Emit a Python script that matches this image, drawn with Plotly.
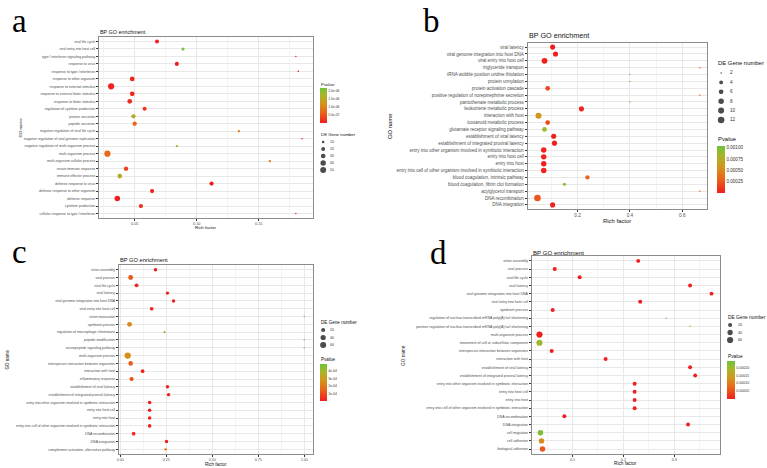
import math
import plotly.graph_objects as go

W, H = 767, 468

# ---------------- data: panel a ----------------
a_terms = ["viral life cycle", "viral entry into host cell", "type I interferon signaling pathway",
           "response to virus", "response to type I interferon", "response to other organism",
           "response to external stimulus", "response to external biotic stimulus", "response to biotic stimulus",
           "regulation of cytokine production", "protein secretion", "peptide secretion",
           "negative regulation of viral life cycle", "negative regulation of viral genome replication",
           "negative regulation of multi-organism process", "multi-organism process",
           "multi-organism cellular process", "innate immune response", "immune effector process",
           "defense response to virus", "defense response to other organism", "defense response",
           "cytokine production", "cellular response to type I interferon"]
a_rich = [0.068, 0.089, 0.180, 0.084, 0.182, 0.048, 0.031, 0.048, 0.046, 0.058, 0.049, 0.050,
          0.134, 0.185, 0.084, 0.028, 0.159, 0.043, 0.038, 0.112, 0.064, 0.036, 0.055, 0.180]
a_genes = [20, 13, 8, 22, 8, 30, 55, 30, 30, 22, 24, 24, 9, 8, 9, 55, 9, 25, 30, 23, 23, 42, 24, 8]
a_pvalue = [1e-08, 2.2e-06, 1e-07, 1e-08, 1e-07, 1e-07, 5e-08, 1e-07, 1.5e-07, 2.5e-07, 1.6e-06, 7e-07,
            9e-07, 1e-07, 1.7e-06, 7e-07, 9e-07, 3.5e-07, 1.6e-06, 1e-08, 5e-08, 1e-08, 2e-07, 1e-07]
a_xticks = [0.05, 0.10, 0.15]
a_xticklabels = ["0.05", "0.10", "0.15"]
a_size_breaks = [10, 20, 30, 40, 50]
a_p_ticks = [2.0e-06, 1.5e-06, 1.0e-06, 5.0e-07]
a_p_ticklabels = ["2.0e-06", "1.5e-06", "1.0e-06", "5.0e-07"]

# ---------------- data: panel b ----------------
b_terms = ["viral latency", "viral genome integration into host DNA", "viral entry into host cell",
           "triglyceride transport", "tRNA wobble position uridine thiolation", "protein urmylation",
           "protein activation cascade", "positive regulation of norepinephrine secretion",
           "pantothenate metabolic process", "leukotriene metabolic process", "interaction with host",
           "icosanoid metabolic process", "glutamate receptor signaling pathway",
           "establishment of viral latency", "establishment of integrated proviral latency",
           "entry into other organism involved in symbiotic interaction", "entry into host cell",
           "entry into host", "entry into cell of other organism involved in symbiotic interaction",
           "blood coagulation, intrinsic pathway", "blood coagulation, fibrin clot formation",
           "acylglycerol transport", "DNA recombination", "DNA integration"]
b_rich = [0.105, 0.116, 0.074, 0.667, 0.400, 0.400, 0.086, 0.667, 0.400, 0.215, 0.051, 0.086,
          0.074, 0.109, 0.112, 0.071, 0.071, 0.071, 0.071, 0.238, 0.150, 0.667, 0.047, 0.105]
b_genes = [7, 7, 9, 2, 2, 2, 6, 2, 2, 7, 10, 6, 6, 7, 7, 8, 8, 8, 8, 5, 3, 2, 12, 7]
b_pvalue = [5e-06, 5e-06, 1e-05, 3e-04, 1.04e-03, 1.04e-03, 1.8e-04, 3e-04, 1.04e-03, 2e-05, 6e-04, 2e-04,
            8.6e-04, 1e-05, 1e-05, 2e-05, 2e-05, 2e-05, 2e-05, 3e-04, 9.5e-04, 3e-04, 2.5e-04, 1e-05]
b_xticks = [0.2, 0.4, 0.6]
b_xticklabels = ["0.2", "0.4", "0.6"]
b_size_breaks = [2, 4, 6, 8, 10, 12]
b_p_ticks = [0.00100, 0.00075, 0.00050, 0.00025]
b_p_ticklabels = ["0.00100", "0.00075", "0.00050", "0.00025"]

# ---------------- data: panel c ----------------
c_terms = ["virion assembly", "viral process", "viral life cycle", "viral latency",
           "viral genome integration into host DNA", "viral entry into host cell", "virion maturation",
           "symbiont process", "regulation of macrophage chemotaxis", "peptide modification",
           "neuropeptide signaling pathway", "multi-organism process",
           "interspecies interaction between organisms", "interaction with host", "inflammatory response",
           "establishment of viral latency", "establishment of integrated proviral latency",
           "entry into other organism involved in symbiotic interaction", "entry into host cell",
           "entry into host", "entry into cell of other organism involved in symbiotic interaction",
           "DNA recombination", "DNA integration", "complement activation, alternative pathway"]
c_rich = [0.192, 0.057, 0.089, 0.257, 0.290, 0.171, 1.000, 0.051, 0.241, 1.000, 1.000, 0.041,
          0.057, 0.122, 0.062, 0.257, 0.263, 0.160, 0.160, 0.160, 0.160, 0.073, 0.252, 0.247]
c_genes = [13, 33, 17, 12, 12, 15, 2, 33, 3, 2, 2, 65, 28, 15, 22, 12, 12, 14, 14, 14, 14, 15, 12, 4]
c_pvalue = [1e-06, 1.2e-04, 2e-05, 1e-06, 1e-06, 1e-05, 4.95e-04, 2.4e-04, 4.6e-04, 4.95e-04, 4.95e-04, 2.6e-04,
            1.3e-04, 1e-05, 1e-04, 1e-06, 1e-06, 1e-06, 1e-06, 1e-06, 1e-06, 3e-05, 1e-06, 1.5e-04]
c_xticks = [0.00, 0.25, 0.50, 0.75, 1.00]
c_xticklabels = ["0.00", "0.25", "0.50", "0.75", "1.00"]
c_size_breaks = [20, 40, 60]
c_p_ticks = [4e-04, 3e-04, 2e-04, 1e-04]
c_p_ticklabels = ["4e-04", "3e-04", "2e-04", "1e-04"]

# ---------------- data: panel d ----------------
d_terms = ["virion assembly", "viral process", "viral life cycle", "viral latency",
           "viral genome integration into host DNA", "viral entry into host cell", "symbiont process",
           "regulation of nuclear-transcribed mRNA poly(A) tail shortening",
           "positive regulation of nuclear-transcribed mRNA poly(A) tail shortening",
           "multi-organism process", "movement of cell or subcellular component",
           "interspecies interaction between organisms", "interaction with host",
           "establishment of viral latency", "establishment of integrated proviral latency",
           "entry into other organism involved in symbiotic interaction", "entry into host cell",
           "entry into host", "entry into cell of other organism involved in symbiotic interaction",
           "DNA recombination", "DNA integration", "cell migration", "cell adhesion", "biological adhesion"]
d_rich = [0.229, 0.065, 0.114, 0.331, 0.373, 0.233, 0.061, 0.284, 0.331, 0.035, 0.035, 0.059,
          0.165, 0.331, 0.341, 0.222, 0.222, 0.222, 0.222, 0.084, 0.327, 0.037, 0.039, 0.041]
d_genes = [18, 20, 20, 18, 18, 20, 20, 3, 3, 60, 60, 20, 19, 18, 18, 19, 19, 19, 19, 19, 18, 45, 42, 45]
d_pvalue = [1e-07, 1e-07, 1e-07, 1e-07, 1e-07, 1e-07, 1e-07, 2.4e-04, 1.6e-04, 1e-06, 2.0e-04, 1e-07,
            1e-07, 1e-07, 1e-07, 1e-07, 1e-07, 1e-07, 1e-07, 1e-07, 1e-07, 2.3e-04, 1.2e-04, 6e-05]
d_xticks = [0.1, 0.2, 0.3]
d_xticklabels = ["0.1", "0.2", "0.3"]
d_size_breaks = [20, 40, 60]
d_p_ticks = [0.00020, 0.00015, 0.00010, 0.00005]
d_p_ticklabels = ["0.00020", "0.00015", "0.00010", "0.00005"]

# ---------------- styling / layout (pixel positions) ----------------
COLORSCALE = [[0.0, "#F01E1E"], [0.3, "#E9651A"], [0.55, "#D4951A"], [0.8, "#A6B62A"], [1.0, "#6EC23A"]]
FONT = "Liberation Sans, Arial, sans-serif"
SERIF = "Liberation Serif, Times New Roman, serif"

panels = [
    dict(letter="a", terms=a_terms, rich=a_rich, genes=a_genes, p=a_pvalue,
         xt=a_xticks, xtl=a_xticklabels, sb=a_size_breaks, pt=a_p_ticks, ptl=a_p_ticklabels,
         box=(97, 312, 37, 218), xr=(0.021, 0.194), minor_step=0.05, srange=(1.6, 6.2),
         fs=dict(cat=3.5, tick=3.8, title=5.4, axt=4.4, legt=4.4, legl=3.5, cb=3.3),
         title_y=32, goname=(19, 127.5), rich_t=(204.5, 227), letter_pos=(18, 21), letter_size=33,
         pv_title=(319, 84), cbar=(319, 7, 88, 35), de_title=(319, 134),
         leg=(322, 142, 7.0), leg_lab_dx=6),
    dict(letter="b", terms=b_terms, rich=b_rich, genes=b_genes, p=b_pvalue,
         xt=b_xticks, xtl=b_xticklabels, sb=b_size_breaks, pt=b_p_ticks, ptl=b_p_ticklabels,
         box=(527, 707, 43, 209), xr=(0.0095, 0.695), minor_step=0.2, srange=(1.5, 6.6),
         fs=dict(cat=4.5, tick=4.6, title=7.2, axt=5.9, legt=5.9, legl=4.6, cb=4.6),
         title_y=36, goname=(389, 126), rich_t=(617, 221), letter_pos=(431, 21), letter_size=33,
         pv_title=(717, 139), cbar=(717, 8, 146, 47), de_title=(717, 63),
         leg=(721, 73, 9.4), leg_lab_dx=8),
    dict(letter="c", terms=c_terms, rich=c_rich, genes=c_genes, p=c_pvalue,
         xt=c_xticks, xtl=c_xticklabels, sb=c_size_breaks, pt=c_p_ticks, ptl=c_p_ticklabels,
         box=(117, 312, 265, 454), xr=(-0.008, 1.049), minor_step=0.25, srange=(1.5, 6.3),
         fs=dict(cat=3.5, tick=3.6, title=5.7, axt=4.5, legt=4.6, legl=3.6, cb=3.4),
         title_y=260, goname=(6, 359.5), rich_t=(214.5, 464), letter_pos=(18, 251.5), letter_size=33,
         pv_title=(319, 359), cbar=(319, 7, 364, 37), de_title=(319, 322),
         leg=(322, 330, 7.5), leg_lab_dx=6),
    dict(letter="d", terms=d_terms, rich=d_rich, genes=d_genes, p=d_pvalue,
         xt=d_xticks, xtl=d_xticklabels, sb=d_size_breaks, pt=d_p_ticks, ptl=d_p_ticklabels,
         box=(531, 720, 256, 454), xr=(0.0196, 0.390), minor_step=0.1, srange=(1.5, 6.2),
         fs=dict(cat=3.6, tick=3.8, title=6.1, axt=4.7, legt=4.8, legl=3.7, cb=3.6),
         title_y=253, goname=(402, 355), rich_t=(625.5, 463), letter_pos=(438, 252.5), letter_size=33,
         pv_title=(727, 356), cbar=(727, 8, 361, 38), de_title=(727, 317),
         leg=(730, 325, 7.5), leg_lab_dx=7),
]


def fx(x):
    return x / W


def fy(y):
    return 1 - y / H


def size_fn(vals, vmin, vmax, rng):
    lo, hi = rng
    out = []
    for v in vals:
        r = (v - vmin) / (vmax - vmin)
        r = min(max(r, 0.0), 1.0)
        out.append(lo + (hi - lo) * math.sqrt(r))
    return out


fig = go.Figure()
layout = dict(width=W, height=H, margin=dict(l=0, r=0, t=0, b=0), paper_bgcolor="white",
              plot_bgcolor="white", showlegend=False, font=dict(family=FONT, color="#1A1A1A"))
annotations = []

for i, P in enumerate(panels, start=1):
    l, r, t, b = P["box"]
    n = len(P["terms"])
    gmin, gmax = min(P["genes"]), max(P["genes"])
    xa = "x" if i == 1 else f"x{i}"
    ya = "y" if i == 1 else f"y{i}"
    xk = "xaxis" if i == 1 else f"xaxis{i}"
    yk = "yaxis" if i == 1 else f"yaxis{i}"
    ca = "coloraxis" if i == 1 else f"coloraxis{i}"

    # minor gridlines halfway between major ticks
    step = P["minor_step"]
    minor_vals = []
    k = math.floor(P["xr"][0] / step) - 1
    while k * step + step / 2 < P["xr"][1]:
        mv = k * step + step / 2
        if mv > P["xr"][0]:
            minor_vals.append(mv)
        k += 1

    layout[xk] = dict(domain=[fx(l), fx(r)], range=list(P["xr"]), anchor=ya,
                      tickmode="array", tickvals=P["xt"], ticktext=P["xtl"],
                      showgrid=True, gridcolor="#E8E8E8", gridwidth=0.7, zeroline=False,
                      showline=True, mirror=True, linecolor="#8C8C8C", linewidth=0.8,
                      ticks="outside", ticklen=2, tickwidth=0.5, tickcolor="#333333",
                      tickfont=dict(size=P["fs"]["tick"], color="#4D4D4D", family=FONT),
                      minor=dict(tickmode="array", tickvals=minor_vals, showgrid=True,
                                 gridcolor="#F4F4F4", gridwidth=0.5, ticks=""),
                      fixedrange=True)
    layout[yk] = dict(domain=[fy(b), fy(t)], type="category", categoryorder="array",
                      categoryarray=P["terms"], range=[n - 0.4, -0.6], anchor=xa,
                      showgrid=True, gridcolor="#E8E8E8", gridwidth=0.7,
                      showline=True, mirror=True, linecolor="#8C8C8C", linewidth=0.8,
                      ticks="outside", ticklen=2, tickwidth=0.5, tickcolor="#333333",
                      tickfont=dict(size=P["fs"]["cat"], color="#4D4D4D", family=FONT),
                      fixedrange=True)

    cx, cw, ct, cl = P["cbar"]
    layout[ca] = dict(colorscale=COLORSCALE, cmin=min(P["p"]), cmax=max(P["p"]),
                      colorbar=dict(x=fx(cx), xanchor="left", y=fy(ct), yanchor="top",
                                    len=cl, lenmode="pixels", thickness=cw, thicknessmode="pixels",
                                    xpad=0, ypad=0, outlinewidth=0, borderwidth=0, ticks="",
                                    tickmode="array", tickvals=P["pt"], ticktext=P["ptl"],
                                    tickfont=dict(size=P["fs"]["cb"], color="#333333", family=FONT)))

    fig.add_trace(go.Scatter(x=P["rich"], y=P["terms"], xaxis=xa, yaxis=ya, mode="markers",
                             marker=dict(size=size_fn(P["genes"], gmin, gmax, P["srange"]),
                                         color=P["p"], coloraxis=ca, line=dict(width=0), opacity=1),
                             hoverinfo="skip"))

    # size legend (DE Gene number) drawn in its own small axes
    lx, ly0, lsp = P["leg"]
    m = len(P["sb"])
    lxk, lyk = f"xaxis{i + 4}", f"yaxis{i + 4}"
    lxa, lya = f"x{i + 4}", f"y{i + 4}"
    layout[lxk] = dict(domain=[fx(lx - 5), fx(lx + 5)], range=[-1, 1], visible=False,
                       anchor=lya, fixedrange=True)
    layout[lyk] = dict(domain=[fy(ly0 + (m - 0.5) * lsp), fy(ly0 - 0.5 * lsp)],
                       range=[m - 0.5, -0.5], visible=False, anchor=lxa, fixedrange=True)
    fig.add_trace(go.Scatter(x=[0] * m, y=list(range(m)), xaxis=lxa, yaxis=lya, mode="markers",
                             marker=dict(size=size_fn(P["sb"], gmin, gmax, P["srange"]),
                                         color="black", line=dict(width=0)),
                             hoverinfo="skip"))
    for j, v in enumerate(P["sb"]):
        annotations.append(dict(text=str(v), x=fx(lx + P["leg_lab_dx"]), xref="paper", y=j, yref=lya,
                                xanchor="left", yanchor="middle", showarrow=False, borderpad=0,
                                font=dict(size=P["fs"]["legl"], color="#333333", family=FONT)))

    # texts
    annotations.append(dict(text="BP GO enrichment", x=fx(l), y=fy(P["title_y"]), xref="paper", yref="paper",
                            xanchor="left", yanchor="middle", showarrow=False, borderpad=0,
                            font=dict(size=P["fs"]["title"], color="#111111", family=FONT)))
    annotations.append(dict(text="GO name", x=fx(P["goname"][0]), y=fy(P["goname"][1]), xref="paper",
                            yref="paper", xanchor="center", yanchor="middle", textangle=-90,
                            showarrow=False, borderpad=0,
                            font=dict(size=P["fs"]["axt"], color="#111111", family=FONT)))
    annotations.append(dict(text="Rich factor", x=fx(P["rich_t"][0]), y=fy(P["rich_t"][1]), xref="paper",
                            yref="paper", xanchor="center", yanchor="middle", showarrow=False, borderpad=0,
                            font=dict(size=P["fs"]["axt"], color="#111111", family=FONT)))
    annotations.append(dict(text="Pvalue", x=fx(P["pv_title"][0]), y=fy(P["pv_title"][1]), xref="paper",
                            yref="paper", xanchor="left", yanchor="middle", showarrow=False, borderpad=0,
                            font=dict(size=P["fs"]["legt"], color="#111111", family=FONT)))
    annotations.append(dict(text="DE Gene number", x=fx(P["de_title"][0]), y=fy(P["de_title"][1]),
                            xref="paper", yref="paper", xanchor="left", yanchor="middle", showarrow=False,
                            borderpad=0, font=dict(size=P["fs"]["legt"], color="#111111", family=FONT)))
    annotations.append(dict(text=P["letter"], x=fx(P["letter_pos"][0]), y=fy(P["letter_pos"][1]),
                            xref="paper", yref="paper", xanchor="center", yanchor="middle", showarrow=False,
                            borderpad=0, font=dict(size=P["letter_size"], color="#000000", family=SERIF)))

layout["annotations"] = annotations
fig.update_layout(**layout)
fig.write_html("out.html")
